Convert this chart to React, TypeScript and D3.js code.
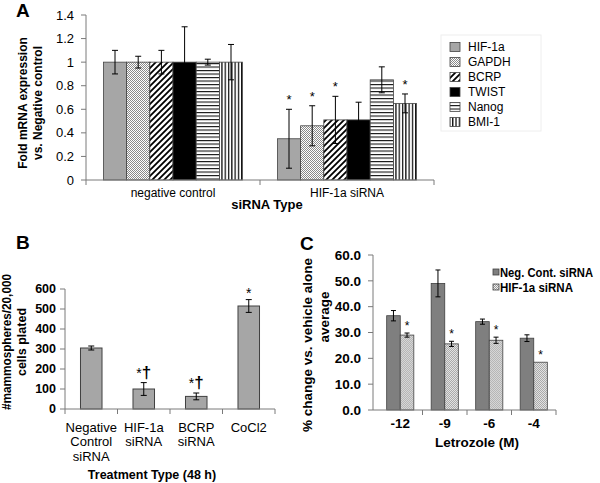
import React from 'react';
import * as d3 from 'd3';

// Panel A: fold mRNA expression by siRNA type
const genes = ['HIF-1a', 'GAPDH', 'BCRP', 'TWIST', 'Nanog', 'BMI-1'];
const siRNAGroups = ['negative control', 'HIF-1a siRNA'];
const negCtrlMean = [1, 1, 1, 1, 1, 1];
const negCtrlErr = [0.1, 0.05, 0.1, 0.3, 0.025, 0.15];
const hifSiMean = [0.35, 0.46, 0.51, 0.51, 0.85, 0.65];
const hifSiErr = [0.25, 0.17, 0.2, 0.15, 0.11, 0.08];
const hifSiStar = [true, true, true, false, false, true];
const yTicksA = [0, 0.2, 0.4, 0.6, 0.8, 1, 1.2, 1.4];

// Panel B: mammospheres per 20,000 cells
const treatments = ['Negative Control siRNA', 'HIF-1a siRNA', 'BCRP siRNA', 'CoCl2'];
const treatmentLines = [['Negative', 'Control', 'siRNA'], ['HIF-1a', 'siRNA'], ['BCRP', 'siRNA'], ['CoCl2']];
const spheres = [305, 100, 63, 515];
const spheresErr = [10, 32, 17, 32];
const spheresMark = ['', '*†', '*†', '*'];
const yTicksB = [0, 100, 200, 300, 400, 500, 600];

// Panel C: % change vs vehicle alone
const letrozole = ['-12', '-9', '-6', '-4'];
const seriesC = ['Neg. Cont. siRNA', 'HIF-1a siRNA'];
const negCont = [36.5, 49, 34.2, 27.8];
const negContErr = [2, 5.2, 1, 1.3];
const hifC = [29, 25.6, 27, 18.5];
const hifCErr = [0.8, 1, 1.2, 0];
const cStar = [true, true, true, true];
const yTicksC = [0, 10, 20, 30, 40, 50, 60];

const FONT = '"Liberation Sans", Arial, sans-serif';
const AXIS = '#7a7a7a';

const geneFill: Record<string, string> = {
  'HIF-1a': '#a6a6a6',
  GAPDH: 'url(#stipple)',
  BCRP: 'url(#diag)',
  TWIST: '#000',
  Nanog: 'url(#hlines)',
  'BMI-1': 'url(#vlines)',
};

function ErrBar({ x, y0, y1, cap }: { x: number; y0: number; y1: number; cap: number }) {
  return (
    <g stroke="#000" strokeWidth={1}>
      <line x1={x} x2={x} y1={y0} y2={y1} />
      <line x1={x - cap / 2} x2={x + cap / 2} y1={y0} y2={y0} />
      <line x1={x - cap / 2} x2={x + cap / 2} y1={y1} y2={y1} />
    </g>
  );
}

function PanelA() {
  const y = d3.scaleLinear().domain([0, 1.4]).range([180, 15]);
  const x = d3.scaleBand().domain(siRNAGroups).range([86, 434]);
  const xg = d3.scaleBand().domain(genes).range([x.bandwidth() * 0.1, x.bandwidth() * 0.9]);
  const data = [
    { g: siRNAGroups[0], mean: negCtrlMean, err: negCtrlErr, star: genes.map(() => false) },
    { g: siRNAGroups[1], mean: hifSiMean, err: hifSiErr, star: hifSiStar },
  ];
  const legendY = d3.scalePoint().domain(genes).range([47, 122]);
  return (
    <g fontFamily={FONT} fill="#000">
      <text x={16} y={17} fontSize={19} fontWeight="bold">A</text>
      {data.map((d) => (
        <g key={d.g} transform={`translate(${x(d.g)},0)`}>
          {genes.map((gn, i) => {
            const bx = xg(gn)!;
            const cx = bx + xg.bandwidth() / 2;
            const top = y(d.mean[i] + d.err[i]);
            return (
              <g key={gn}>
                <rect x={bx} y={y(d.mean[i])} width={xg.bandwidth()} height={y(0) - y(d.mean[i])}
                  fill={geneFill[gn]} stroke="#444" strokeWidth={0.8} />
                <ErrBar x={cx} y0={top} y1={y(d.mean[i] - d.err[i])} cap={6} />
                {d.star[i] && (
                  <text x={cx} y={top - 5} fontSize={13} textAnchor="middle" fill="#000">*</text>
                )}
              </g>
            );
          })}
        </g>
      ))}
      {/* axes */}
      <line x1={86} x2={86} y1={y(1.4)} y2={y(0)} stroke={AXIS} />
      <line x1={86} x2={434} y1={y(0)} y2={y(0)} stroke={AXIS} />
      {yTicksA.map((t) => (
        <g key={t}>
          <line x1={81} x2={86} y1={y(t)} y2={y(t)} stroke={AXIS} />
          <text x={74} y={y(t)} dy="0.35em" fontSize={13} textAnchor="end">{t}</text>
        </g>
      ))}
      {[...siRNAGroups.map((g) => x(g)!), 434].map((t) => (
        <line key={t} x1={t} x2={t} y1={y(0)} y2={y(0) + 5} stroke={AXIS} />
      ))}
      {siRNAGroups.map((g) => (
        <text key={g} x={x(g)! + x.bandwidth() / 2} y={193} dy="0.35em" fontSize={12} textAnchor="middle">{g}</text>
      ))}
      <text x={267} y={204} dy="0.35em" fontSize={13} fontWeight="bold" textAnchor="middle">siRNA Type</text>
      <g fontSize={12} fontWeight="bold" textAnchor="middle">
        <text transform="translate(23,103) rotate(-90)" dy="0.35em">Fold mRNA expression</text>
        <text transform="translate(38,103) rotate(-90)" dy="0.35em">vs. Negative control</text>
      </g>
      {/* legend */}
      <rect x={441} y={35} width={100} height={96} fill="none" stroke="#eee" />
      {genes.map((gn) => (
        <g key={gn}>
          <rect x={450} y={legendY(gn)! - 4.5} width={10} height={9} fill={geneFill[gn]} stroke="#444" strokeWidth={0.8} />
          <text x={468} y={legendY(gn)!} dy="0.35em" fontSize={12}>{gn}</text>
        </g>
      ))}
    </g>
  );
}

function PanelB() {
  const y = d3.scaleLinear().domain([0, 600]).range([409, 289]);
  const x = d3.scaleBand().domain(treatments).range([65, 275]).paddingInner(0.59).paddingOuter(0.295);
  const step = x.step();
  return (
    <g fontFamily={FONT} fill="#000">
      <text x={16} y={249} fontSize={19} fontWeight="bold">B</text>
      {treatments.map((t, i) => {
        const cx = x(t)! + x.bandwidth() / 2;
        const top = y(spheres[i] + spheresErr[i]);
        const mark = spheresMark[i];
        return (
          <g key={t}>
            <rect x={x(t)} y={y(spheres[i])} width={x.bandwidth()} height={y(0) - y(spheres[i])}
              fill="#a6a6a6" stroke="#404040" strokeWidth={1} />
            <ErrBar x={cx} y0={top} y1={y(spheres[i] - spheresErr[i])} cap={6} />
            {mark === '*' && (
              <text x={cx} y={top - 2} fontSize={14} textAnchor="middle">*</text>
            )}
            {mark === '*†' && (
              <text x={cx} y={top - 5} textAnchor="middle">
                <tspan fontSize={14}>*</tspan>
                <tspan fontSize={17} fontWeight="bold">†</tspan>
              </text>
            )}
            {treatmentLines[i].map((ln, j) => (
              <text key={ln} x={cx} y={427 + j * 14.5} dy="0.35em" fontSize={13} textAnchor="middle">{ln}</text>
            ))}
          </g>
        );
      })}
      <line x1={65} x2={65} y1={y(600)} y2={y(0)} stroke={AXIS} />
      <line x1={65} x2={275} y1={y(0)} y2={y(0)} stroke={AXIS} />
      {yTicksB.map((t) => (
        <g key={t}>
          <line x1={60} x2={65} y1={y(t)} y2={y(t)} stroke={AXIS} />
          <text x={56} y={y(t)} dy="0.35em" fontSize={12.5} fontWeight="bold" textAnchor="end">{t}</text>
        </g>
      ))}
      {d3.range(treatments.length + 1).map((k) => (
        <line key={k} x1={65 + k * step} x2={65 + k * step} y1={y(0)} y2={y(0) + 5} stroke={AXIS} />
      ))}
      <text x={152} y={475} dy="0.35em" fontSize={12.5} fontWeight="bold" textAnchor="middle">Treatment Type (48 h)</text>
      <g fontSize={12.5} fontWeight="bold" textAnchor="middle">
        <text transform="translate(7,342) rotate(-90)" dy="0.35em" textLength={136} lengthAdjust="spacingAndGlyphs">#mammospheres/20,000</text>
        <text transform="translate(22,342) rotate(-90)" dy="0.35em">cells plated</text>
      </g>
    </g>
  );
}

function PanelC() {
  const y = d3.scaleLinear().domain([0, 60]).range([410, 255]);
  const x = d3.scaleBand().domain(letrozole).range([378, 556]).paddingInner(0.39).paddingOuter(0.195);
  const xs = d3.scaleBand().domain(seriesC).range([0, x.bandwidth()]);
  const step = x.step();
  const fills = ['#7f7f7f', 'url(#stippleC)'];
  const vals = [negCont, hifC];
  const errs = [negContErr, hifCErr];
  const legendY = d3.scalePoint().domain(seriesC).range([272, 287]);
  const legendLen = [93, 73];
  return (
    <g fontFamily={FONT} fill="#000">
      <text x={300} y={250} fontSize={19} fontWeight="bold">C</text>
      {letrozole.map((l, i) => (
        <g key={l} transform={`translate(${x(l)},0)`}>
          {seriesC.map((s, k) => {
            const v = vals[k][i];
            const e = errs[k][i];
            const cx = xs(s)! + xs.bandwidth() / 2;
            return (
              <g key={s}>
                <rect x={xs(s)} y={y(v)} width={xs.bandwidth()} height={y(0) - y(v)}
                  fill={fills[k]} stroke="#404040" strokeWidth={0.8} />
                {e > 0 && <ErrBar x={cx} y0={y(v + e)} y1={y(v - e)} cap={5} />}
                {k === 1 && cStar[i] && (
                  <text x={cx} y={y(v + e) - 3} fontSize={12} textAnchor="middle">*</text>
                )}
              </g>
            );
          })}
        </g>
      ))}
      <line x1={373} x2={373} y1={y(60)} y2={y(0)} stroke={AXIS} />
      <line x1={373} x2={556} y1={y(0)} y2={y(0)} stroke={AXIS} />
      {yTicksC.map((t) => (
        <g key={t}>
          <line x1={368} x2={373} y1={y(t)} y2={y(t)} stroke={AXIS} />
          <text x={361} y={y(t)} dy="0.35em" fontSize={13.5} fontWeight="bold" textAnchor="end">{t.toFixed(1)}</text>
        </g>
      ))}
      {d3.range(1, letrozole.length + 1).map((k) => (
        <line key={k} x1={378 + k * step} x2={378 + k * step} y1={y(0)} y2={y(0) + 5} stroke={AXIS} />
      ))}
      {letrozole.map((l) => (
        <text key={l} x={x(l)! + x.bandwidth() / 2} y={423} dy="0.35em" fontSize={13.5} fontWeight="bold" textAnchor="middle">{l}</text>
      ))}
      <text x={477} y={442} dy="0.35em" fontSize={13.5} fontWeight="bold" textAnchor="middle">Letrozole (M)</text>
      <g fontSize={13.5} fontWeight="bold" textAnchor="middle">
        <text transform="translate(307,345) rotate(-90)" dy="0.35em">% change vs. vehicle alone</text>
        <text transform="translate(324,317) rotate(-90)" dy="0.35em">average</text>
      </g>
      {seriesC.map((s, k) => (
        <g key={s}>
          <rect x={493} y={legendY(s)! - 3} width={6} height={6} fill={fills[k]} stroke="#404040" strokeWidth={0.8} />
          <text x={500} y={legendY(s)!} dy="0.35em" fontSize={13.5} fontWeight="bold"
            textLength={legendLen[k]} lengthAdjust="spacingAndGlyphs">{s}</text>
        </g>
      ))}
    </g>
  );
}

export default function App() {
  return (
    <svg width={600} height={483} style={{ position: 'absolute', left: 0, top: 0, background: '#fff' }}>
      <defs>
        <pattern id="stipple" width={2} height={2} patternUnits="userSpaceOnUse">
          <rect width={2} height={2} fill="#fff" />
          <rect width={1} height={1} fill="#8a8a8a" />
          <rect x={1} y={1} width={1} height={1} fill="#8a8a8a" />
        </pattern>
        <pattern id="stippleC" width={2} height={2} patternUnits="userSpaceOnUse">
          <rect width={2} height={2} fill="#f2f2f2" />
          <rect width={1} height={1} fill="#9a9a9a" />
          <rect x={1} y={1} width={1} height={1} fill="#9a9a9a" />
        </pattern>
        <pattern id="diag" width={6} height={6} patternUnits="userSpaceOnUse">
          <rect width={6} height={6} fill="#fff" />
          <path d="M0,6 L6,0 M-1.5,1.5 L1.5,-1.5 M4.5,7.5 L7.5,4.5" stroke="#000" strokeWidth={1.8} />
        </pattern>
        <pattern id="hlines" width={4} height={3.5} patternUnits="userSpaceOnUse">
          <rect width={4} height={3.5} fill="#fff" />
          <rect y={0} width={4} height={1.1} fill="#111" />
        </pattern>
        <pattern id="vlines" width={3.3} height={4} patternUnits="userSpaceOnUse">
          <rect width={3.3} height={4} fill="#fff" />
          <rect x={0} width={1.3} height={4} fill="#111" />
        </pattern>
      </defs>
      <PanelA />
      <PanelB />
      <PanelC />
    </svg>
  );
}
